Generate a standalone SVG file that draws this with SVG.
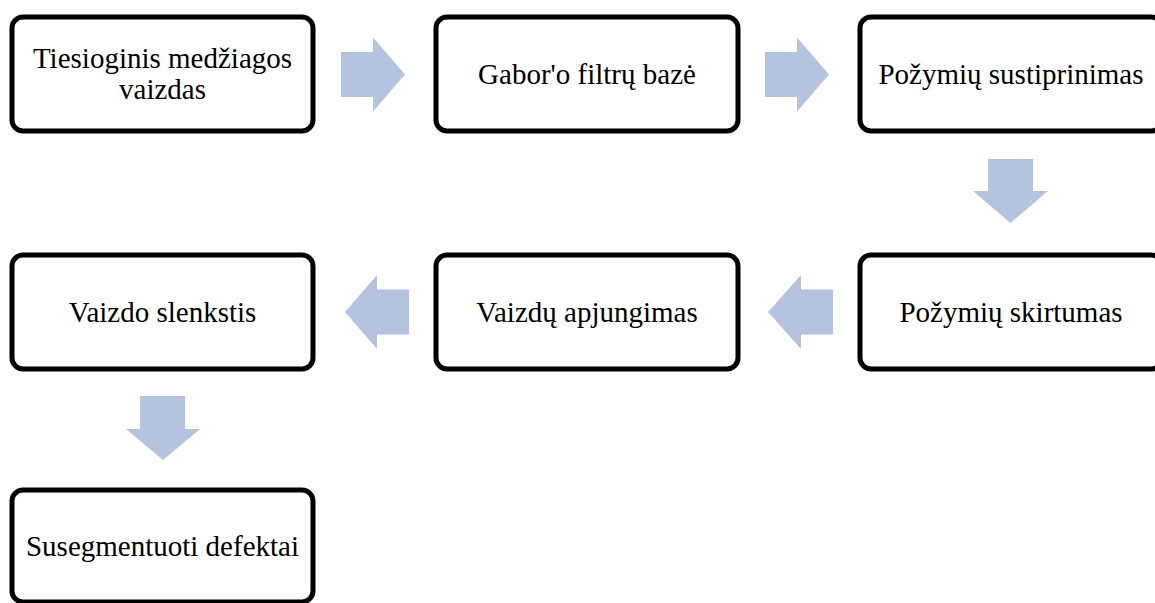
<svg xmlns="http://www.w3.org/2000/svg" width="1155" height="603" viewBox="0 0 1155 603">
  <style>
    .box { fill: #ffffff; stroke: #000000; stroke-width: 5; }
    .lbl { font-family: "Liberation Serif", "Times New Roman", serif; font-size: 29px; fill: #000000; text-anchor: middle; }
    .arrow { fill: #B4C4DE; stroke: none; }
  </style>
  <rect width="1155" height="603" fill="#ffffff"/>

  <!-- block arrows between the steps -->
  <g id="connectors">
    <path class="arrow" d="M341,52 H373 V37.5 L405,74.5 L373,111.5 V97 H341 Z"/>
    <path class="arrow" d="M765,52 H797 V37.5 L829,74.5 L797,111.5 V97 H765 Z"/>
    <path class="arrow" d="M988,159 H1033 V191 H1048 L1010.5,223 L973,191 H988 Z"/>
    <path class="arrow" d="M833,289.5 H801 V275 L768,312 L801,349 V334.5 H833 Z"/>
    <path class="arrow" d="M409,289.5 H377 V275 L345,312 L377,349 V334.5 H409 Z"/>
    <path class="arrow" d="M140,396 H185 V429 H200 L163,460 L126,429 H140 Z"/>
  </g>

  <g id="step-input">
    <rect class="box" x="12" y="17" width="301" height="114" rx="11"/>
    <text class="lbl" x="162.5" y="68">Tiesioginis medžiagos</text>
    <text class="lbl" x="162.5" y="99">vaizdas</text>
  </g>

  <g id="step-gabor">
    <rect class="box" x="436" y="17" width="302" height="114" rx="11"/>
    <text class="lbl" x="587" y="84">Gabor'o filtrų bazė</text>
  </g>

  <g id="step-enhance">
    <rect class="box" x="860" y="17" width="302" height="114" rx="11"/>
    <text class="lbl" x="1011" y="84">Požymių sustiprinimas</text>
  </g>

  <g id="step-difference">
    <rect class="box" x="860" y="255" width="302" height="114" rx="11"/>
    <text class="lbl" x="1011" y="322">Požymių skirtumas</text>
  </g>

  <g id="step-merge">
    <rect class="box" x="436" y="255" width="302" height="114" rx="11"/>
    <text class="lbl" x="587" y="322">Vaizdų apjungimas</text>
  </g>

  <g id="step-threshold">
    <rect class="box" x="12" y="255" width="301" height="114" rx="11"/>
    <text class="lbl" x="162.5" y="322">Vaizdo slenkstis</text>
  </g>

  <g id="step-result">
    <rect class="box" x="12" y="490" width="301" height="112" rx="11"/>
    <text class="lbl" x="162.5" y="556">Susegmentuoti defektai</text>
  </g>
</svg>
